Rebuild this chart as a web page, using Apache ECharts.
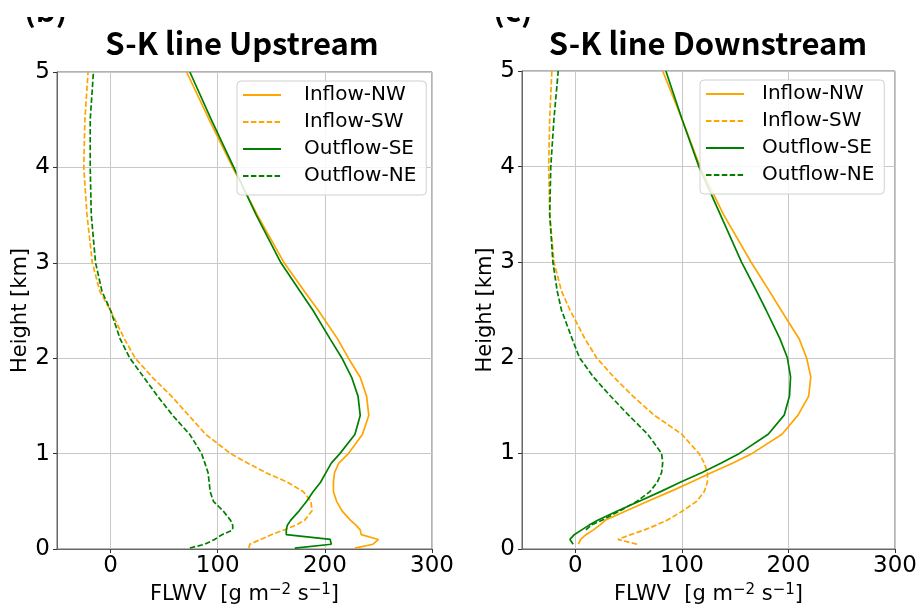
<!DOCTYPE html>
<html>
<head>
<meta charset="utf-8">
<script src="https://cdn.jsdelivr.net/npm/echarts@6/dist/echarts.min.js"></script>
<style>
  html, body { margin: 0; padding: 0; background: #fff; }
  #chart { width: 919px; height: 606px; }
</style>
</head>
<body>
<div id="chart"></div>
<script>
// heights [km] shared by every profile
const heights = [0.01, 0.05, 0.1, 0.15, 0.2, 0.25, 0.3, 0.4, 0.5, 0.6, 0.7, 0.8, 0.9, 1.0,
  1.2, 1.4, 1.6, 1.8, 2.0, 2.2, 2.5, 2.7, 3.0, 3.5, 4.0, 4.5, 5.0];

// (b) upstream, FLWV [g m-2 s-1]
const upInflowNW = [228, 245, 250, 234, 233, 229, 224, 216, 211, 208, 208, 209, 213, 222,
  235, 241, 239, 233, 222, 212, 194, 181, 162, 137, 114, 92, 71];
const upInflowSW = [129, 130, 140, 150, 162, 173, 181, 188, 187, 180, 165, 145, 128, 112,
  89, 73, 57, 39, 23, 13, 0, -10, -17, -22, -25, -24, -21];
const upOutflowSE = [172, 206, 205, 164, 164, 165, 168, 176, 183, 189, 196, 201, 206, 214,
  228, 233, 231, 225, 216, 205, 189, 177, 159, 136, 115, 94, 74];
const upOutflowNE = [74, 88, 97, 104, 114, 114, 112, 105, 96, 93, 92, 91, 88, 85,
  74, 58, 44, 31, 18, 9, 0, -8, -14, -18, -19, -19, -16];

// (c) downstream
const downInflowNW = [null, 3, 5, 10, 17, 23, 28, 48, 68, 89, 109, 128, 148, 166,
  194, 209, 219, 221, 217, 210, 193, 182, 165, 139, 117, 100, 82];
const downInflowSW = [null, 58, 40, 52, 65, 76, 86, 101, 114, 121, 124, 124, 121, 116,
  100, 74, 54, 36, 20, 9, -5, -13, -20, -24, -25, -24, -22];
const downOutflowSE = [null, -2, -5, -1, 6, 13, 21, 40, 60, 80, 99, 119, 137, 154,
  181, 196, 201, 202, 199, 192, 179, 170, 156, 136, 116, 100, 85];
const downOutflowNE = [null, null, null, null, 10, 15, 25, 42, 58, 70, 77, 81, 82, 81,
  68, 50, 33, 17, 4, -3, -13, -17, -21, -24, -23, -20, -16];

const xTicks = [0, 100, 200, 300];
const seriesNames = ['Inflow-NW', 'Inflow-SW', 'Outflow-SE', 'Outflow-NE'];

const ORANGE = '#FFA500';
const GREEN = '#008000';
const DASH = [5.5, 2.4];

const chart = echarts.init(document.getElementById('chart'));

function pts(vals) {
  return heights.map((h, i) => [vals[i], h]).filter((p) => p[0] !== null);
}

function profile(name, vals, color, dashed, idx) {
  return {
    name: name,
    type: 'line',
    xAxisIndex: idx,
    yAxisIndex: idx,
    data: pts(vals),
    symbol: 'none',
    silent: true,
    itemStyle: { color: color },
    lineStyle: { color: color, width: 1.7, type: dashed ? DASH : 'solid' },
  };
}

function xAxisFor(idx) {
  return {
    gridIndex: idx,
    type: 'value',
    min: -50,
    max: 300,
    name: 'FLWV  [g m{sup|\u22122} s{sup|\u22121}]',
    nameLocation: 'middle',
    nameGap: 32,
    nameTextStyle: {
      fontFamily: 'DejaVu Sans',
      fontSize: 21,
      lineHeight: 24,
      color: '#000',
      rich: { sup: { fontFamily: 'DejaVu Sans', fontSize: 15, lineHeight: 24, verticalAlign: 'top', padding: [0, 0, 9, 0] } },
    },
    axisLine: { onZero: false, lineStyle: { color: '#666', width: 1 } },
    axisTick: { customValues: xTicks, length: 4, lineStyle: { color: '#333' } },
    axisLabel: { customValues: xTicks, fontFamily: 'DejaVu Sans', fontSize: 23, color: '#000', margin: 6 },
    splitLine: { show: true, lineStyle: { color: '#c8c8c8', width: 1 } },
  };
}

function yAxisFor(idx) {
  return {
    gridIndex: idx,
    type: 'value',
    min: 0,
    max: 5,
    interval: 1,
    name: 'Height [km]',
    nameLocation: 'middle',
    nameGap: 25,
    nameTextStyle: { fontFamily: 'DejaVu Sans', fontSize: 21, color: '#000' },
    axisLine: { onZero: false, lineStyle: { color: '#666', width: 1 } },
    axisTick: { show: true, length: 4, lineStyle: { color: '#333' } },
    axisLabel: { fontFamily: 'DejaVu Sans', fontSize: 23, color: '#000', margin: 7 },
    splitLine: { show: true, lineStyle: { color: '#c8c8c8', width: 1 } },
  };
}

function legendAt(left, top, gap) {
  return {
    orient: 'vertical',
    left: left,
    top: top,
    data: seriesNames,
    itemWidth: 38,
    itemHeight: 14,
    itemGap: 7,
    padding: [4, 10, 9, 5],
    backgroundColor: 'rgba(255,255,255,0.85)',
    borderColor: '#d0d0d0',
    borderWidth: 1,
    borderRadius: 4,
    selectedMode: false,
    itemStyle: { opacity: 0 },
    textStyle: { fontFamily: 'DejaVu Sans', fontSize: 20, lineHeight: 20, color: '#000', padding: [0, 0, 0, gap] },
  };
}

const titleStyle = { fontFamily: 'Noto Sans CJK JP', fontWeight: 'bold', fontSize: 31, color: '#000' };

const option = {
  animation: false,
  backgroundColor: '#fff',
  title: [
    { text: 'S-K line Upstream', left: 242, top: 28, textAlign: 'center', padding: 0, textStyle: titleStyle },
    { text: '(b)', left: 24, top: -5, padding: 0, textStyle: titleStyle },
    { text: 'S-K line Downstream', left: 708, top: 28, textAlign: 'center', padding: 0, textStyle: titleStyle },
    { text: '(c)', left: 493, top: -5, padding: 0, textStyle: titleStyle },
  ],
  // the panel letters are cropped at the top in the original figure
  graphic: [
    { type: 'rect', left: 0, top: 0, shape: { width: 919, height: 17 }, style: { fill: '#fff' }, z: 100, silent: true },
  ],
  legend: [legendAt(237, 81, 18), legendAt(700, 80, 13)],
  grid: [
    { left: 57, top: 72, width: 375, height: 477, show: true, borderColor: '#666', borderWidth: 1, outerBoundsMode: 'none' },
    { left: 522, top: 71, width: 373, height: 478, show: true, borderColor: '#666', borderWidth: 1, outerBoundsMode: 'none' },
  ],
  xAxis: [xAxisFor(0), xAxisFor(1)],
  yAxis: [yAxisFor(0), yAxisFor(1)],
  series: [
    profile('Inflow-NW', upInflowNW, ORANGE, false, 0),
    profile('Inflow-SW', upInflowSW, ORANGE, true, 0),
    profile('Outflow-SE', upOutflowSE, GREEN, false, 0),
    profile('Outflow-NE', upOutflowNE, GREEN, true, 0),
    profile('Inflow-NW', downInflowNW, ORANGE, false, 1),
    profile('Inflow-SW', downInflowSW, ORANGE, true, 1),
    profile('Outflow-SE', downOutflowSE, GREEN, false, 1),
    profile('Outflow-NE', downOutflowNE, GREEN, true, 1),
  ],
};

chart.setOption(option);
window.addEventListener('resize', () => chart.resize());
</script>
</body>
</html>
